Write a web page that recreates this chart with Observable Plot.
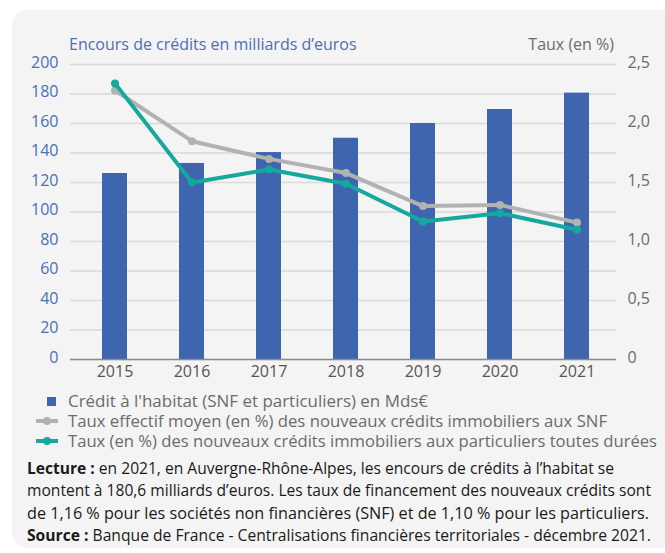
<!DOCTYPE html>
<html><head><meta charset="utf-8">
<script src="https://cdn.jsdelivr.net/npm/d3@7"></script>
<script src="https://cdn.jsdelivr.net/npm/@observablehq/plot@0.6"></script>
<style>
html,body{margin:0;padding:0;background:#fff;width:665px;height:553px;overflow:hidden;font-family:"Open Sans",sans-serif;}
#panel{position:absolute;left:12px;top:10px;width:680px;height:538px;background:#f4f4f4;border-radius:16px;}
#chart{position:absolute;left:0;top:0;}
#notes{position:absolute;left:0;top:0;}
.t{position:absolute;font-size:16px;white-space:nowrap;}
</style></head>
<body>
<div id="panel"></div>
<div id="chart"></div>
<div class="t" style="left:69px;top:33px;color:#4a6fb5;">Encours de crédits en milliards d’euros</div>
<div class="t" style="right:51px;top:33px;color:#6b6b6b;">Taux (en %)</div>
<svg id="notes" width="665" height="553"></svg>
<script>
const years = ["2015","2016","2017","2018","2019","2020","2021"];
const encours = [126.1, 132.9, 140.3, 150.0, 160.0, 169.5, 180.6];
const tauxSNF = [2.28, 1.85, 1.70, 1.58, 1.30, 1.31, 1.16];
const tauxPart = [2.34, 1.50, 1.61, 1.49, 1.17, 1.24, 1.10];
const leftTicks = [0, 20, 40, 60, 80, 100, 120, 140, 160, 180, 200];
const rightTicks = [0, 0.5, 1.0, 1.5, 2.0, 2.5];
const legendLabels = [
  "Crédit à l'habitat (SNF et particuliers) en Mds€",
  "Taux effectif moyen (en %) des nouveaux crédits immobiliers aux SNF",
  "Taux (en %) des nouveaux crédits immobiliers aux particuliers toutes durées"
];

const BLUE = "#3e65ae", GRAY = "#b2b2b2", TEAL = "#14a89e";
const RATIO = 200 / 2.5;
const data = years.map((y, i) => ({year: y, encours: encours[i], snf: tauxSNF[i], part: tauxPart[i]}));

const plot = Plot.plot({
  width: 665, height: 385,
  marginLeft: 70, marginRight: 49, marginTop: 64, marginBottom: 26,
  style: {background: "transparent", fontFamily: "Open Sans", fontSize: "16px", overflow: "visible"},
  x: {type: "band", domain: years, range: [75, 616], padding: 0},
  y: {domain: [0, 200]},
  marks: [
    Plot.ruleY(leftTicks, {stroke: "#d9d9d9", strokeWidth: 1.5}),
    Plot.barY(data, {x: "year", y: "encours", fill: BLUE, insetLeft: 26, insetRight: 26}),
    Plot.ruleY([0], {stroke: "#8c8c8c", strokeWidth: 1.5}),
    Plot.lineY(data, {x: "year", y: d => d.snf * RATIO, stroke: GRAY, strokeWidth: 4}),
    Plot.dot(data, {x: "year", y: d => d.snf * RATIO, fill: GRAY, r: 4}),
    Plot.lineY(data, {x: "year", y: d => d.part * RATIO, stroke: TEAL, strokeWidth: 4}),
    Plot.dot(data, {x: "year", y: d => d.part * RATIO, fill: TEAL, r: 4}),
    Plot.axisY(leftTicks, {anchor: "left", tickSize: 0, tickPadding: 12, fill: "#4a6fb5", label: null, fontSize: 16, dy: -2}),
    Plot.axisY(rightTicks.map(v => v * RATIO), {anchor: "right", tickSize: 0, tickPadding: 11, fill: "#6b6b6b", label: null, fontSize: 16, dy: -2,
      tickFormat: v => v === 0 ? "0" : (v / RATIO).toFixed(1).replace(".", ",")}),
    Plot.axisX({tickSize: 0, tickPadding: 6, fill: "#555", label: null, fontSize: 16})
  ]
});
document.getElementById("chart").appendChild(plot);

// legend and notes
const svg = d3.select("#notes").style("font-family", "Open Sans");
svg.append("rect").attr("x", 47).attr("y", 397).attr("width", 9).attr("height", 9).attr("fill", BLUE);
[[GRAY, 421], [TEAL, 441]].forEach(([c, y]) => {
  svg.append("line").attr("x1", 36).attr("x2", 58).attr("y1", y).attr("y2", y).attr("stroke", c).attr("stroke-width", 4);
  svg.append("circle").attr("cx", 47).attr("cy", y).attr("r", 4).attr("fill", c);
});
const legLens = [360, 539, 589];
legendLabels.forEach((t, i) => {
  svg.append("text").attr("x", 68).attr("y", 407 + i * 20).attr("fill", "#6b6b6b").attr("font-size", 16)
    .attr("textLength", legLens[i]).attr("lengthAdjust", "spacingAndGlyphs").text(t);
});
const notes = [
  [["Lecture :", true], [" en 2021, en Auvergne-Rhône-Alpes, les encours de crédits à l’habitat se", false]],
  [["montent à 180,6 milliards d’euros. Les taux de financement des nouveaux crédits sont", false]],
  [["de 1,16 % pour les sociétés non financières (SNF) et de 1,10 % pour les particuliers.", false]],
  [["Source :", true], [" Banque de France - Centralisations financières territoriales - décembre 2021.", false]]
];
const noteLens = [587, 624, 622, 624];
notes.forEach((parts, i) => {
  const t = svg.append("text").attr("x", 27).attr("y", 474 + i * 22.3).attr("fill", "#1a1a1a").attr("font-size", 15.5)
    .attr("textLength", noteLens[i]).attr("lengthAdjust", "spacingAndGlyphs").attr("xml:space", "preserve");
  parts.forEach(([s, b]) => t.append("tspan").attr("font-weight", b ? "bold" : null).text(s));
});
</script>
</body></html>
